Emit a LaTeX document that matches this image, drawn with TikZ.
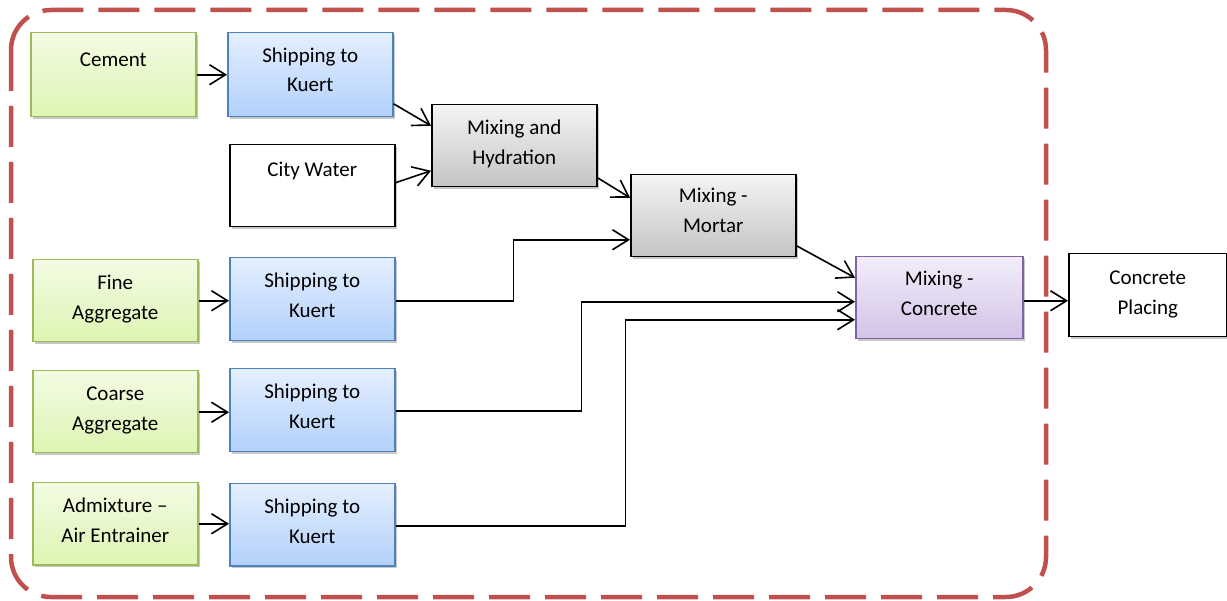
\documentclass[tikz,border=0pt]{standalone}
\usepackage{fontspec}
\setmainfont{Carlito}
\usetikzlibrary{arrows.meta,shadows}
\definecolor{gtop}{HTML}{F3FBE4}
\definecolor{gbot}{HTML}{DDF5B2}
\definecolor{gborder}{HTML}{9BBB59}
\definecolor{btop}{HTML}{E4EFFE}
\definecolor{bbot}{HTML}{B2D0FB}
\definecolor{bborder}{HTML}{4F81BD}
\definecolor{ktop}{HTML}{F4F4F4}
\definecolor{kbot}{HTML}{C4C4C4}
\definecolor{ptop}{HTML}{F2EDF9}
\definecolor{pbot}{HTML}{D3C3E8}
\definecolor{pborder}{HTML}{8064A2}
\definecolor{redline}{HTML}{C0504D}
\begin{document}
\begin{tikzpicture}[x=1pt,y=-1pt,
  boxbase/.style={draw, line width=1.5pt, minimum width=165pt, minimum height=83pt,
    anchor=north west, inner sep=0pt,
    drop shadow={shadow xshift=2pt,shadow yshift=-2pt,fill=black,opacity=0.22}},
  greenbox/.style={boxbase, draw=gborder, top color=gtop, bottom color=gbot},
  bluebox/.style={boxbase, draw=bborder, top color=btop, bottom color=bbot},
  graybox/.style={boxbase, draw=black, top color=ktop, bottom color=kbot},
  purplebox/.style={boxbase, draw=pborder, top color=ptop, bottom color=pbot},
  whitebox/.style={boxbase, draw=black, fill=white},
  txt/.style={anchor=north, inner sep=0pt, align=center, font=\fontsize{21}{29.5}\selectfont},
  arr/.style={line width=1.6pt, -{Straight Barb[length=16pt,width=20pt]}},
  border/.style={draw=redline, line width=4.5pt, dash pattern=on 41pt off 15pt, rounded corners=40pt}
]
\useasboundingbox (0,0) rectangle (1227,601);
\draw[border] (11,10) rectangle (1046,597);

% boxes
\node[greenbox, minimum height=84pt] (cement) at (30,32) {};
\node[bluebox, minimum height=84pt] (ship1) at (227,32) {};
\node[whitebox, minimum height=82pt] (city) at (229,144) {};
\node[graybox, minimum height=82pt] (mixh) at (431,104) {};
\node[graybox, minimum height=82pt] (mortar) at (630,174) {};
\node[greenbox, minimum height=82pt] (fine) at (32,259) {};
\node[bluebox] (ship2) at (229,257) {};
\node[greenbox, minimum height=82pt] (coarse) at (32,370) {};
\node[bluebox] (ship3) at (229,368) {};
\node[greenbox, minimum height=82pt] (admix) at (32,482) {};
\node[bluebox, minimum height=82pt] (ship4) at (229,483) {};
\node[purplebox, minimum width=167pt, minimum height=82pt] (concrete) at (855,256) {};
\node[whitebox, minimum width=158pt] (placing) at (1068,253) {};

% texts
\node[txt] (cement-t) at ([yshift=-14pt]cement.north) {\strut Cement};
\node[txt] (ship1-t) at ([yshift=-9.6pt]ship1.north) {\strut Shipping to\\Kuert};
\node[txt] (city-t) at ([yshift=-12pt]city.north) {\strut City Water};
\node[txt] (mixh-t) at ([yshift=-10pt]mixh.north) {\strut Mixing and\\Hydration};
\node[txt] (mortar-t) at ([yshift=-8pt]mortar.north) {\strut Mixing -\\Mortar};
\node[txt] (fine-t) at ([yshift=-10pt]fine.north) {\strut Fine\\Aggregate};
\node[txt] (ship2-t) at ([yshift=-10pt]ship2.north) {\strut Shipping to\\Kuert};
\node[txt] (coarse-t) at ([yshift=-10pt]coarse.north) {\strut Coarse\\Aggregate};
\node[txt] (ship3-t) at ([yshift=-10pt]ship3.north) {\strut Shipping to\\Kuert};
\node[txt] (admix-t) at ([yshift=-10pt]admix.north) {\strut Admixture --\\Air Entrainer};
\node[txt] (ship4-t) at ([yshift=-10pt]ship4.north) {\strut Shipping to\\Kuert};
\node[txt] (concrete-t) at ([yshift=-9pt]concrete.north) {\strut Mixing -\\Concrete};
\node[txt] (placing-t) at ([yshift=-11pt]placing.north) {\strut Concrete\\Placing};

% connectors
\draw[arr] (cement.east) -- (cement.east -| ship1.west);
\draw[arr] (fine.east) -- (fine.east -| ship2.west);
\draw[arr] ([yshift=-0.5pt]coarse.east) -- ([yshift=-0.5pt]coarse.east -| ship3.west);
\draw[arr] (admix.east) -- (admix.east -| ship4.west);
\draw[arr] ([yshift=-29pt]ship1.east) -- ([yshift=20pt]mixh.west);
\draw[arr] ([yshift=3pt]city.east) -- ([yshift=-25pt]mixh.west);
\draw[arr] ([yshift=-32pt]mixh.east) -- ([yshift=18pt]mortar.west);
\draw[arr] ([yshift=-1.5pt]ship2.east) -- ++(118pt,0) |- ([yshift=-24pt]mortar.west);
\draw[arr] ([yshift=-30pt]mortar.east) -- ([yshift=20pt]concrete.west);
\draw[arr] ([yshift=-0.5pt]ship3.east) -- ++(186pt,0) |- ([yshift=-4pt]concrete.west);
\draw[arr] ([yshift=-1pt]ship4.east) -- ++(230pt,0) |- ([yshift=-22pt]concrete.west);
\draw[arr] ([yshift=-3pt]concrete.east) -- ([yshift=-3pt]concrete.east -| placing.west);
\end{tikzpicture}
\end{document}
